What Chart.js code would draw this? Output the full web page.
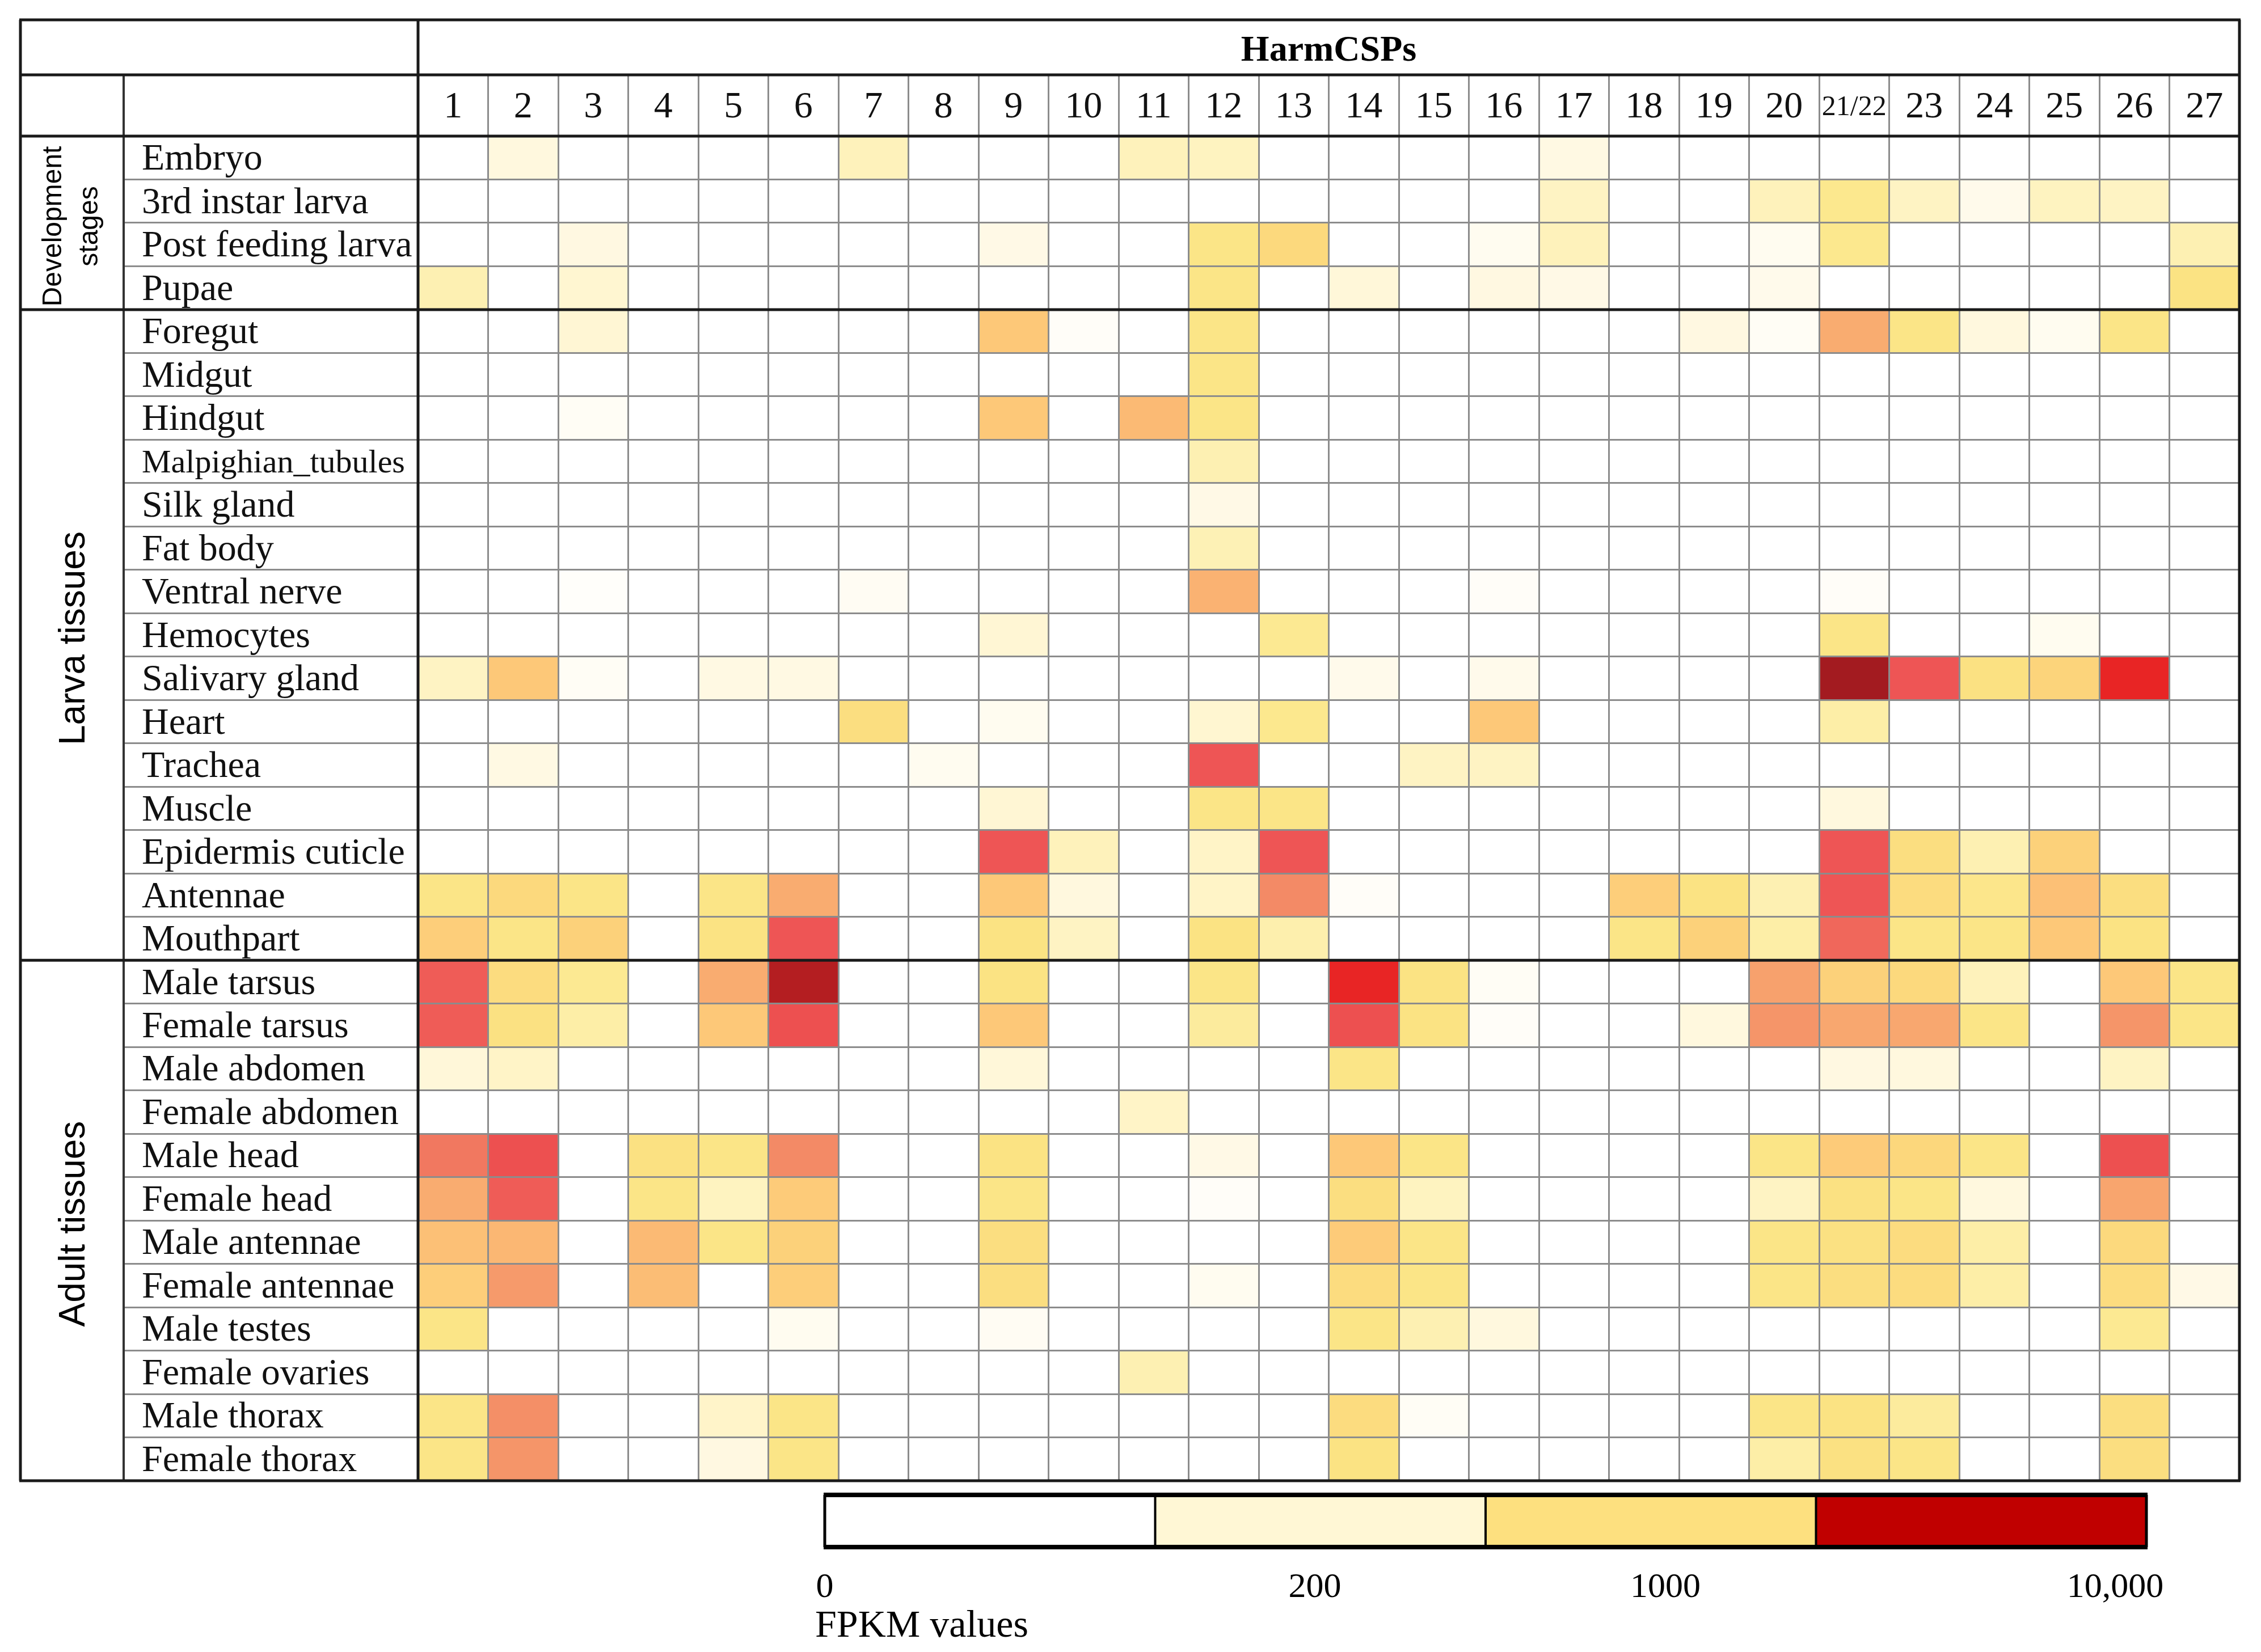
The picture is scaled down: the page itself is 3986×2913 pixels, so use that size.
<!DOCTYPE html>
<html>
<head>
<meta charset="utf-8">
<title>HarmCSPs expression</title>
<script src="https://cdn.jsdelivr.net/npm/chart.js@4.4.1/dist/chart.umd.min.js"></script>
<style>
  html, body { margin: 0; padding: 0; background: #fff; }
  canvas { display: block; }
</style>
</head>
<body>
<canvas id="heat" width="3986" height="2913"></canvas>
<script>
// gene columns
const genes = ["1","2","3","4","5","6","7","8","9","10","11","12","13","14","15","16","17","18","19","20","21/22","23","24","25","26","27"];

// row labels per group
const devStages = ["Embryo","3rd instar larva","Post feeding larva","Pupae"];
const larvaTissues = ["Foregut","Midgut","Hindgut","Malpighian_tubules","Silk gland","Fat body","Ventral nerve","Hemocytes","Salivary gland","Heart","Trachea","Muscle","Epidermis cuticle","Antennae","Mouthpart"];
const adultTissues = ["Male tarsus","Female tarsus","Male abdomen","Female abdomen","Male head","Female head","Male antennae","Female antennae","Male testes","Female ovaries","Male thorax","Female thorax"];
const groupNames = [["Development","stages"],["Larva tissues"],["Adult tissues"]];

// FPKM estimates (one array per row, one value per gene)
const fpkmDev = [
  [0,80,0,0,0,0,250,0,0,0,250,220,0,0,0,0,60,0,0,0,0,0,0,0,0,0],
  [0,0,0,0,0,0,0,0,0,0,0,0,0,0,0,0,200,0,0,250,700,200,40,220,200,0],
  [0,0,70,0,0,0,0,0,50,0,0,900,1400,0,0,30,250,0,0,30,700,0,0,0,0,300],
  [300,0,130,0,0,0,0,0,0,0,0,900,0,100,0,70,50,0,0,40,0,0,0,0,0,1000]
];
const fpkmLarva = [
  [0,0,120,0,0,0,0,0,2000,15,0,900,0,0,0,0,0,0,70,20,3000,900,80,30,900,0],
  [0,0,0,0,0,0,0,0,0,0,0,900,0,0,0,0,0,0,0,0,0,0,0,0,0,0],
  [0,0,20,0,0,0,0,0,2000,0,2500,900,0,0,0,0,0,0,0,0,0,0,0,0,0,0],
  [0,0,0,0,0,0,0,0,0,0,0,300,0,0,0,0,0,0,0,0,0,0,0,0,0,0],
  [0,0,0,0,0,0,0,0,0,0,0,50,0,0,0,0,0,0,0,0,0,0,0,0,0,0],
  [0,0,0,0,0,0,0,0,0,0,0,280,0,0,0,0,0,0,0,0,0,0,0,0,0,0],
  [0,0,10,0,0,0,25,0,0,0,0,2800,0,0,0,15,0,0,0,0,15,0,0,0,0,0],
  [0,0,0,0,0,0,0,0,120,0,0,0,600,0,0,0,0,0,0,0,900,0,0,30,0,0],
  [200,2000,20,0,60,60,0,0,0,0,0,0,0,40,0,40,0,0,0,0,10000,6000,1100,1600,8000,0],
  [0,0,0,0,0,0,1200,0,30,0,0,130,700,0,0,2000,0,0,0,0,400,0,0,0,0,0],
  [0,60,0,0,0,0,0,30,0,0,0,6000,0,0,200,200,0,0,0,0,0,0,0,0,0,0],
  [0,0,0,0,0,0,0,0,120,0,0,900,900,0,0,0,0,0,0,0,80,0,0,0,0,0],
  [0,0,0,0,0,0,0,0,6000,250,0,180,6000,0,0,0,0,0,0,0,6000,1200,300,1700,0,0],
  [900,1400,900,0,900,3000,0,0,2000,80,0,180,4500,15,0,0,0,1800,1000,300,6000,1300,800,2300,1200,0],
  [1800,900,1700,0,1000,6000,0,0,1000,200,0,1000,350,0,0,0,0,900,1700,400,5500,900,900,2000,1000,0]
];
const fpkmAdult = [
  [5800,1300,600,0,3000,9500,0,0,1000,0,0,900,0,8000,1000,20,0,0,0,3500,1700,1400,250,0,2000,900],
  [5800,1100,400,0,2000,6200,0,0,2000,0,0,500,0,6200,1000,15,0,0,80,4000,3200,3200,900,0,4000,900],
  [100,180,0,0,0,0,0,0,100,0,0,0,0,900,0,0,0,0,0,0,70,80,0,0,200,0],
  [0,0,0,0,0,0,0,0,0,0,180,0,0,0,0,0,0,0,0,0,0,0,0,0,0,0],
  [5000,6200,0,1100,900,4500,0,0,1000,0,0,50,0,2000,900,0,0,0,0,900,1900,1500,900,0,6200,0],
  [3000,5800,0,900,220,1900,0,0,900,0,0,15,0,1200,220,0,0,0,0,200,1100,900,80,0,3300,0],
  [2300,2600,0,2500,900,1700,0,0,1200,0,0,0,0,1900,900,0,0,0,0,900,1100,1300,400,0,1400,0],
  [1800,3800,0,2400,0,1800,0,0,1200,0,0,30,0,1300,900,0,0,0,0,900,1200,1300,400,0,1300,50],
  [900,0,0,0,0,30,0,0,25,0,0,0,0,900,300,80,0,0,0,0,0,0,0,0,600,0],
  [0,0,0,0,0,0,0,0,0,0,300,0,0,0,0,0,0,0,0,0,0,0,0,0,0,0],
  [900,4300,0,0,170,900,0,0,0,0,0,0,0,1300,20,0,0,0,0,900,1000,500,0,0,1200,0],
  [900,4000,0,0,70,900,0,0,0,0,0,0,0,1000,0,0,0,0,0,400,1100,900,0,0,1200,0]
];

// legend
const legendLabels = ["0","200","1000","10,000"];
const legendColors = ["#ffffff","#fff7d5","#fde07f","#c00000"];
const legendTitle = "FPKM values";

const rows = [...devStages, ...larvaTissues, ...adultTissues];
const fpkm = [...fpkmDev, ...fpkmLarva, ...fpkmAdult];
const groups = [
  { label: groupNames[0], from: 0, to: devStages.length },
  { label: groupNames[1], from: devStages.length, to: devStages.length + larvaTissues.length },
  { label: groupNames[2], from: devStages.length + larvaTissues.length, to: rows.length }
];

// colour ramp: value -> colour
const ramp = [
  [0, "#ffffff"], [10, "#fffefa"], [50, "#fff9e6"], [150, "#fff5cc"], [300, "#fdf0b2"],
  [600, "#fce992"], [1000, "#fbe383"], [1500, "#fcd77c"], [2000, "#fdc878"], [3000, "#f9ac70"],
  [4500, "#f38a66"], [6000, "#ee5555"], [8000, "#e82525"], [10000, "#a31b20"]
];
function hex(c){ return [1,3,5].map(i => parseInt(c.substr(i,2),16)); }
function fpkmColor(v){
  if(v <= 0) return "#ffffff";
  for(let i = 1; i < ramp.length; i++){
    if(v <= ramp[i][0]){
      const t = (v - ramp[i-1][0]) / (ramp[i][0] - ramp[i-1][0]);
      const a = hex(ramp[i-1][1]), b = hex(ramp[i][1]);
      const m = a.map((x,k) => Math.round(x + (b[k]-x)*t));
      return `rgb(${m[0]},${m[1]},${m[2]})`;
    }
  }
  return ramp[ramp.length-1][1];
}

// layout (canvas pixels)
const FRAME_L = 36, FRAME_T = 35, HEAD_Y = 132, SPLIT_X = 218, LABEL_X = 250;
const GRID = "#8c8c8c", INK = "#1a1a1a";

const framePlugin = {
  id: "frame",
  afterDraw(chart){
    const ctx = chart.ctx, ca = chart.chartArea, ys = chart.scales.y;
    const R = ca.right;
    ctx.save();
    function line(x1,y1,x2,y2,w,c){
      ctx.beginPath(); ctx.lineWidth = w; ctx.strokeStyle = c;
      ctx.moveTo(x1,y1); ctx.lineTo(x2,y2); ctx.stroke();
    }
    // divider between group column and row label column
    line(SPLIT_X, HEAD_Y, SPLIT_X, ca.bottom, 4, "#333");
    // horizontal frame lines
    [FRAME_T, HEAD_Y, ca.top, ca.bottom].forEach(y => line(FRAME_L-2, y, R+2, y, 5, INK));
    groups.slice(1).forEach(g => line(FRAME_L, ys.getPixelForValue(g.from), R, ys.getPixelForValue(g.from), 5, INK));
    // vertical frame lines
    line(FRAME_L, FRAME_T, FRAME_L, ca.bottom, 5, INK);
    line(R, FRAME_T, R, ca.bottom, 5, INK);
    line(ca.left, FRAME_T, ca.left, ca.bottom, 5, INK);

    // title
    ctx.fillStyle = "#000";
    ctx.textAlign = "center"; ctx.textBaseline = "middle";
    ctx.font = "bold 64px 'Liberation Serif'";
    ctx.fillText("HarmCSPs", (ca.left + R)/2, (FRAME_T + HEAD_Y)/2 + 7);

    // group labels, rotated
    groups.forEach((g, i) => {
      const cy = (ys.getPixelForValue(g.from) + ys.getPixelForValue(g.to))/2;
      const cx = (FRAME_L + SPLIT_X)/2;
      const size = g.label.length > 1 ? 48 : 64;
      const gap = 64;
      ctx.save();
      ctx.translate(cx + (i === 0 ? 0 : 4), cy + 6);
      ctx.rotate(-Math.PI/2);
      ctx.font = `${size}px 'Liberation Sans'`;
      g.label.forEach((t, k) => {
        ctx.fillText(t, 0, (k - (g.label.length-1)/2) * gap);
      });
      ctx.restore();
    });

    // colour legend
    const lx = 1454, lw = 2330, ly = 2636, lh = 92;
    const seg = lw / legendColors.length;
    legendColors.forEach((c, i) => { ctx.fillStyle = c; ctx.fillRect(lx + i*seg, ly, seg, lh); });
    for(let i = 1; i < legendColors.length; i++) line(lx + i*seg, ly, lx + i*seg, ly + lh, 4, "#000");
    line(lx, ly, lx, ly + lh, 5, "#000");
    line(lx + lw, ly, lx + lw, ly + lh, 5, "#000");
    line(lx - 2, ly, lx + lw + 2, ly, 8, "#000");
    line(lx - 2, ly + lh, lx + lw + 2, ly + lh, 8, "#000");
    ctx.fillStyle = "#000";
    ctx.font = "62px 'Liberation Serif'";
    const labelX = [1454, 2318, 2936, 3729];
    legendLabels.forEach((t, i) => ctx.fillText(t, labelX[i], 2800));
    ctx.textAlign = "left";
    ctx.font = "68px 'Liberation Serif'";
    ctx.fillText(legendTitle, 1437, 2868);
    ctx.restore();
  }
};

new Chart(document.getElementById("heat"), {
  type: "bar",
  data: {
    labels: genes,
    datasets: rows.map((name, r) => ({
      label: name,
      data: genes.map(() => [r, r + 1]),
      backgroundColor: fpkm[r].map(fpkmColor),
      borderWidth: 0,
      barPercentage: 1,
      categoryPercentage: 1,
      grouped: false
    }))
  },
  options: {
    responsive: false,
    devicePixelRatio: 1,
    animation: false,
    layout: { padding: { left: LABEL_X, right: 38, top: HEAD_Y, bottom: 302 } },
    plugins: { legend: { display: false }, tooltip: { enabled: false } },
    scales: {
      x: {
        type: "category",
        position: "top",
        offset: true,
        afterFit(s){ s.height = 108; },
        border: { display: false },
        grid: { offset: true, color: GRID, lineWidth: 3, tickLength: 108, z: 1 },
        ticks: {
          autoSkip: false, maxRotation: 0, padding: -97, color: "#111",
          font: c => genes[c.index] === "21/22"
            ? { family: "Liberation Serif", size: 50, lineHeight: 1.584 }
            : { family: "Liberation Serif", size: 66, lineHeight: 1.2 }
        }
      },
      y: {
        type: "linear",
        min: 0, max: rows.length,
        reverse: true,
        afterBuildTicks(s){ s.ticks = rows.concat([""]).map((_, i) => ({ value: i })); },
        afterFit(s){ s.width = 737 - LABEL_X; },
        border: { display: false },
        grid: { color: GRID, lineWidth: 3, tickLength: 737 - SPLIT_X, z: 1 },
        ticks: {
          autoSkip: false, crossAlign: "far", labelOffset: 42, color: "#111",
          callback: v => rows[v] || "",
          font: c => ({ family: "Liberation Serif", size: rows[c.index] === "Malpighian_tubules" ? 58 : 66 })
        }
      }
    }
  },
  plugins: [framePlugin]
});
</script>
</body>
</html>
